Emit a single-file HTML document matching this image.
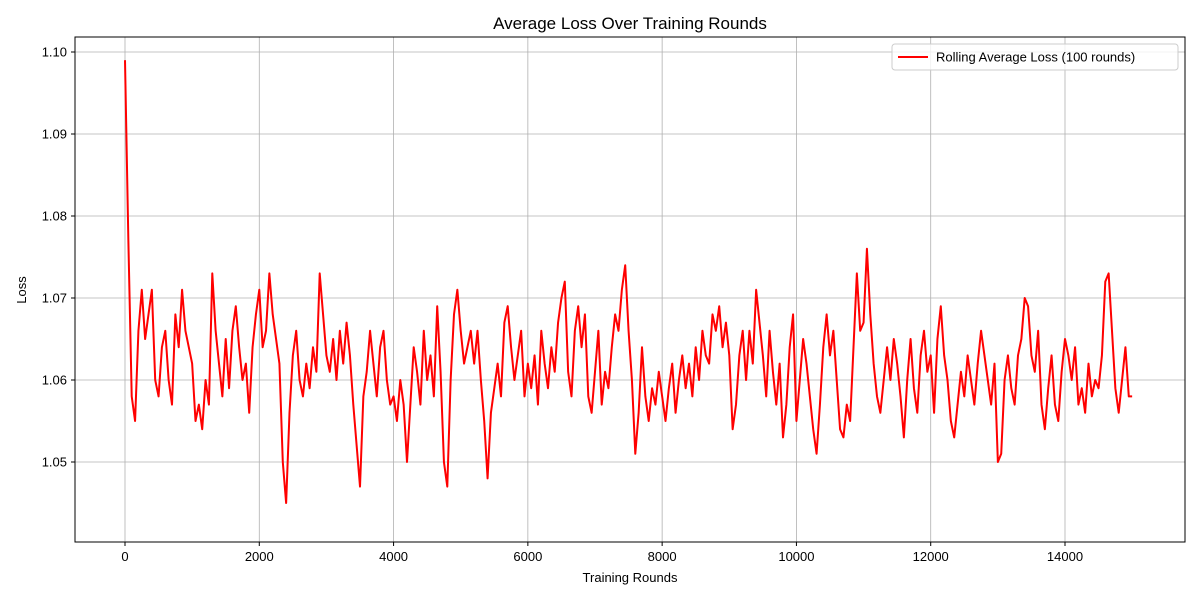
<!DOCTYPE html>
<html><head><meta charset="utf-8"><style>
body{margin:0;background:#fff;font-family:"Liberation Sans",sans-serif;}
svg text{font-family:"Liberation Sans",sans-serif;fill:#000;}
</style></head><body>
<svg id="chart" width="1200" height="600" xmlns="http://www.w3.org/2000/svg">
<rect width="1200" height="600" fill="#fff"/>
<text x="630" y="29" font-size="17" text-anchor="middle">Average Loss Over Training Rounds</text>
<g id="grid"></g>
<g id="series"></g>
<rect x="75" y="37" width="1110" height="505" fill="none" stroke="#000" stroke-width="1"/>
<g id="ticks"></g>
<text x="630" y="582" font-size="13" text-anchor="middle">Training Rounds</text>
<text x="0" y="0" font-size="13" text-anchor="middle" transform="translate(26,290) rotate(-90)">Loss</text>
<g>
<rect x="892" y="44" width="286" height="26" fill="#fff" fill-opacity="0.8" stroke="#ccc" rx="3"/>
<line x1="898" y1="57" x2="928" y2="57" stroke="#f00" stroke-width="2"/>
<text x="936" y="61.5" font-size="13">Rolling Average Loss (100 rounds)</text>
</g>
</svg>
<script>
const xStep = 50;
const lossValues = [1.099,1.077,1.058,1.055,1.066,1.071,1.065,1.068,1.071,1.060,1.058,1.064,1.066,1.060,1.057,1.068,1.064,1.071,1.066,1.064,1.062,1.055,1.057,1.054,1.060,1.057,1.073,1.066,1.062,1.058,1.065,1.059,1.066,1.069,1.064,1.060,1.062,1.056,1.064,1.068,1.071,1.064,1.066,1.073,1.068,1.065,1.062,1.050,1.045,1.056,1.063,1.066,1.060,1.058,1.062,1.059,1.064,1.061,1.073,1.068,1.063,1.061,1.065,1.060,1.066,1.062,1.067,1.063,1.057,1.052,1.047,1.058,1.061,1.066,1.062,1.058,1.064,1.066,1.060,1.057,1.058,1.055,1.060,1.057,1.050,1.057,1.064,1.061,1.057,1.066,1.060,1.063,1.058,1.069,1.061,1.050,1.047,1.060,1.068,1.071,1.066,1.062,1.064,1.066,1.062,1.066,1.060,1.055,1.048,1.056,1.059,1.062,1.058,1.067,1.069,1.064,1.060,1.063,1.066,1.058,1.062,1.059,1.063,1.057,1.066,1.062,1.059,1.064,1.061,1.067,1.070,1.072,1.061,1.058,1.066,1.069,1.064,1.068,1.058,1.056,1.061,1.066,1.057,1.061,1.059,1.064,1.068,1.066,1.071,1.074,1.066,1.060,1.051,1.056,1.064,1.058,1.055,1.059,1.057,1.061,1.058,1.055,1.059,1.062,1.056,1.060,1.063,1.059,1.062,1.058,1.064,1.060,1.066,1.063,1.062,1.068,1.066,1.069,1.064,1.067,1.063,1.054,1.057,1.063,1.066,1.060,1.066,1.062,1.071,1.067,1.063,1.058,1.066,1.061,1.057,1.062,1.053,1.057,1.064,1.068,1.055,1.060,1.065,1.062,1.058,1.054,1.051,1.057,1.064,1.068,1.063,1.066,1.060,1.054,1.053,1.057,1.055,1.064,1.073,1.066,1.067,1.076,1.068,1.062,1.058,1.056,1.060,1.064,1.060,1.065,1.062,1.058,1.053,1.060,1.065,1.059,1.056,1.063,1.066,1.061,1.063,1.056,1.065,1.069,1.063,1.060,1.055,1.053,1.057,1.061,1.058,1.063,1.060,1.057,1.062,1.066,1.063,1.060,1.057,1.062,1.050,1.051,1.060,1.063,1.059,1.057,1.063,1.065,1.070,1.069,1.063,1.061,1.066,1.057,1.054,1.059,1.063,1.057,1.055,1.061,1.065,1.063,1.060,1.064,1.057,1.059,1.056,1.062,1.058,1.060,1.059,1.063,1.072,1.073,1.066,1.059,1.056,1.060,1.064,1.058,1.058];
const xTicks = [0,2000,4000,6000,8000,10000,12000,14000];
const yTicks = [1.05,1.06,1.07,1.08,1.09,1.10];
const yTickLabels = ["1.05","1.06","1.07","1.08","1.09","1.10"];

const X = v => 125 + v * (940/14000);
const Y = v => 462 - (v - 1.05) * 8200;
const NS = "http://www.w3.org/2000/svg";
const grid = document.getElementById('grid'), ticks = document.getElementById('ticks'), series = document.getElementById('series');
function mk(tag, attrs, parent){const e=document.createElementNS(NS,tag);for(const k in attrs)e.setAttribute(k,attrs[k]);parent.appendChild(e);return e;}
xTicks.forEach(t=>{
  const x=X(t);
  const g=mk('line',{x1:x,y1:37,x2:x,y2:542,stroke:'#b0b0b0','stroke-width':0.8},grid);
  
  
  mk('line',{x1:x,y1:542,x2:x,y2:546,stroke:'#000'},ticks);
  const tx=mk('text',{x:x,y:561,'font-size':13,'text-anchor':'middle'},ticks);
  tx.textContent=String(t);
  
  
});
yTicks.forEach((t,i)=>{
  const y=Y(t);
  const g=mk('line',{x1:75,y1:y,x2:1185,y2:y,stroke:'#b0b0b0','stroke-width':0.8},grid);
  
  
  mk('line',{x1:71,y1:y,x2:75,y2:y,stroke:'#000'},ticks);
  const tx=mk('text',{x:67,y:y+4.5,'font-size':13,'text-anchor':'end'},ticks);
  tx.textContent=yTickLabels[i];
  
  
});
const d=lossValues.map((v,i)=>(i?'L':'M')+X(i*xStep).toFixed(2)+','+Y(v).toFixed(2)).join('');
const p=mk('path',{d:d,fill:'none',stroke:'#ff0000','stroke-width':2,'stroke-linejoin':'round'},series);


</script>
</body></html>
